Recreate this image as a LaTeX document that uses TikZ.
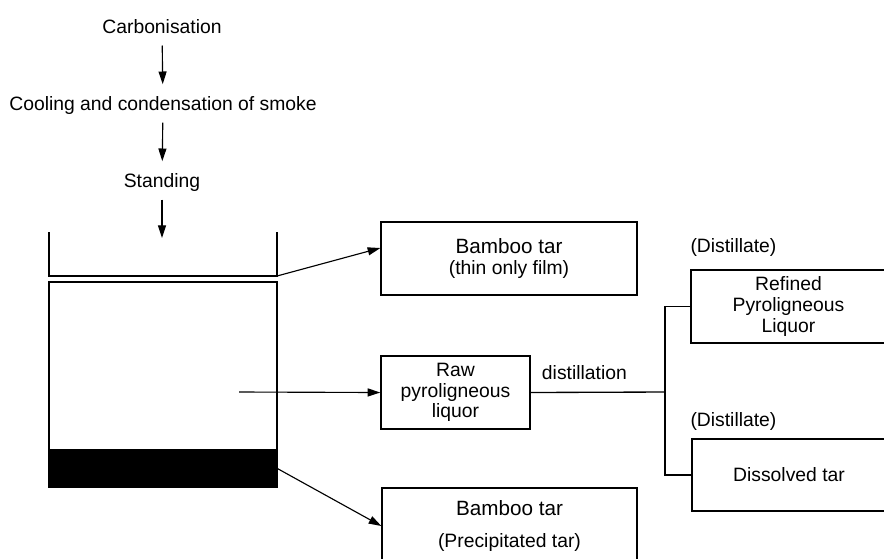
\documentclass[tikz,border=0pt]{standalone}
\usepackage{fontspec}
\setmainfont{Liberation Sans}
\usetikzlibrary{arrows.meta,calc}

\tikzset{every picture/.style={line width=0.75pt}}
\tikzset{
  lbl/.style={inner xsep=0pt, inner ysep=6pt, text height=10pt, text depth=3pt, font=\fontsize{14.5}{15.5}\selectfont},
  box/.style={draw, line width=1pt, align=center, inner sep=0pt, font=\fontsize{14.5}{15.5}\selectfont},
  flow/.style={-{Triangle[length=9.5pt,width=6pt]}, line width=0.85pt},
  wire/.style={line width=1pt}
}

\begin{document}
\begin{tikzpicture}[x=0.75pt,y=0.75pt,yscale=-1,xscale=1]
\useasboundingbox (0,0) rectangle (884,558); %page is 884 x 558

% Text Node
\node[lbl, anchor=base] (carb) at (162,33) {Carbonisation};
% Text Node
\node[lbl, anchor=base] (cool) at (163,110) {Cooling and condensation of smoke};
% Text Node
\node[lbl, anchor=base] (stand) at (162,187) {Standing};

%Shape: open tray
\draw[wire] (49,232) -- (49,276) -- (277,276) -- (277,232);
\coordinate (drop) at (162,238);
\coordinate (filmout) at (277,276);

%Shape: settling vessel
\node[draw, line width=1pt, inner sep=0pt, minimum width=171pt, minimum height=153.75pt] (vessel) at (163,384.5) {};
\fill (vessel.south west) rectangle ($(vessel.south east)+(0,-39)$);
\coordinate (liqin) at (239,392);
\coordinate (tarout) at ($(vessel.south east)+(0,-19)$);

% Boxes
\node[box, minimum width=192pt, minimum height=54.75pt] (tar1) at (509,258.5) {{\fontsize{15.5}{17.5}\selectfont Bamboo tar}\\(thin only film)};
\node[box, minimum width=111.75pt, minimum height=54.75pt] (raw) at (455.5,392.5) {Raw\\pyroligneous\\liquor};
\node[box, minimum width=146.25pt, minimum height=54.75pt] (refined) at (788.5,306.5) {Refined\\Pyroligneous\\Liquor};
\node[box, minimum width=145.5pt, minimum height=54pt] (dissolved) at (789,475) {Dissolved tar};
\node[box, minimum width=191.25pt, minimum height=57pt] (tar2) at (509.5,526) {{\fontsize{15.5}{17.5}\selectfont Bamboo tar}\\[8pt](Precipitated tar)};

% Text Node
\node[lbl, anchor=base west] (dist1) at (690,252) {(Distillate)};
% Text Node
\node[lbl, anchor=base west] (dist2) at (690,426) {(Distillate)};

\coordinate (fork) at (665,392);

%Arrows
\draw[flow, shorten >=3pt] (carb) -- (cool);
\draw[flow, shorten >=3pt] (cool) -- (stand);
\draw[flow] (stand) -- (drop);
\draw[flow] (filmout) -- ($(tar1.west)+(0,-10.5)$);
\draw[flow] (liqin) -- (raw.west);
\draw[flow] (tarout) -- (tar2.west);

%Straight Lines
\draw[wire] (raw.east) -- node[lbl, above, pos=0.4] (distil) {distillation} (fork);
\draw[wire] (refined.west) -| (fork) |- (dissolved.west);

\end{tikzpicture}
\end{document}
